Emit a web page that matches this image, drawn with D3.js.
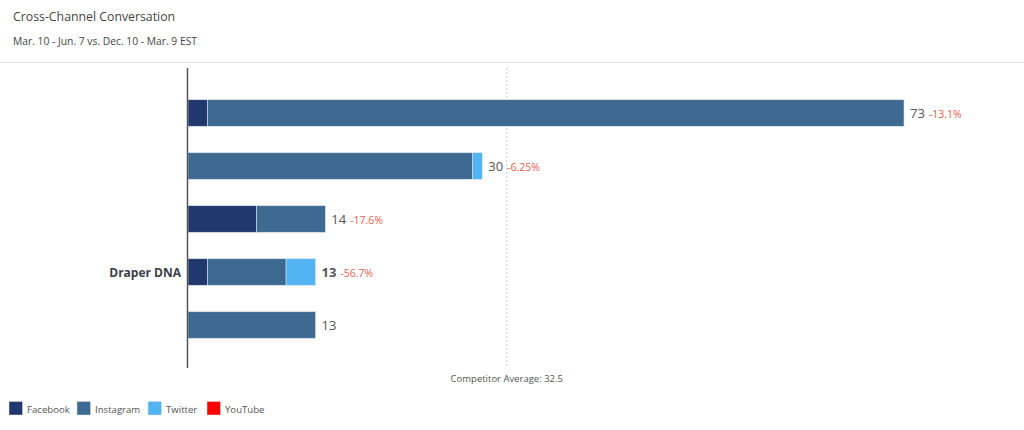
<!DOCTYPE html>
<html>
<head>
<meta charset="utf-8">
<script src="https://cdn.jsdelivr.net/npm/d3@7"></script>
<style>
  html, body { margin: 0; padding: 0; background: #fff; }
  body { width: 1024px; height: 430px; overflow: hidden; font-family: "Open Sans", sans-serif; }
</style>
</head>
<body>
<svg id="chart" width="1024" height="430"></svg>
<script>
// ---- data ----
const title = "Cross-Channel Conversation";
const subtitle = "Mar. 10 - Jun. 7 vs. Dec. 10 - Mar. 9 EST";
const categories = ["c1", "c2", "c3", "Draper DNA", "c5"];
const categoryLabels = ["", "", "", "Draper DNA", ""];
const highlighted = "Draper DNA";
const seriesNames = ["Facebook", "Instagram", "Twitter", "YouTube"];
const seriesColors = ["#20386d", "#3e6990", "#52b4f2", "#ff0000"];
const facebook  = [2, 0, 7, 2, 0];
const instagram = [71, 29, 7, 8, 13];
const twitter   = [0, 1, 0, 3, 0];
const youtube   = [0, 0, 0, 0, 0];
const totals    = [73, 30, 14, 13, 13];
const changes   = ["-13.1%", "-6.25%", "-17.6%", "-56.7%", ""];
const competitorAverage = 32.5;
const averageLabel = "Competitor Average: 32.5";

// ---- layout ----
const svg = d3.select("#chart");
const x = d3.scaleLinear().domain([0, 73]).range([188, 904]);
const y = d3.scaleBand().domain(categories).range([86.5, 351.5]).paddingInner(0.5).paddingOuter(0.25);

// header
svg.append("text").attr("x", 13).attr("y", 21).attr("font-size", 12.3).attr("fill", "#444").text(title);
svg.append("text").attr("x", 13).attr("y", 45).attr("font-size", 10.3).attr("fill", "#444").text(subtitle);
svg.append("line").attr("x1", 0).attr("x2", 1024).attr("y1", 62.5).attr("y2", 62.5).attr("stroke", "#e3e3e3").attr("stroke-width", 1);

// competitor average line
svg.append("line")
  .attr("x1", x(competitorAverage)).attr("x2", x(competitorAverage))
  .attr("y1", 68).attr("y2", 368)
  .attr("stroke", "#c8c8c8").attr("stroke-width", 1).attr("stroke-dasharray", "2,2");
svg.append("text").attr("x", x(competitorAverage)).attr("y", 382)
  .attr("text-anchor", "middle").attr("font-size", 9.5).attr("fill", "#555").text(averageLabel);

// stacked data
const rows = categories.map((c, i) => ({ cat: c, Facebook: facebook[i], Instagram: instagram[i], Twitter: twitter[i], YouTube: youtube[i] }));
const stack = d3.stack().keys(seriesNames)(rows);

svg.append("g").selectAll("g").data(stack).join("g")
  .attr("fill", (d, i) => seriesColors[i])
  .selectAll("rect").data(d => d.filter(p => p[1] > p[0])).join("rect")
  .attr("x", p => x(p[0]))
  .attr("width", p => x(p[1]) - x(p[0]))
  .attr("y", p => y(p.data.cat))
  .attr("height", y.bandwidth())
  .attr("stroke", "#d5e0ec").attr("stroke-width", 0.6);

// axis line
svg.append("line").attr("x1", 187.5).attr("x2", 187.5).attr("y1", 68).attr("y2", 368)
  .attr("stroke", "#555").attr("stroke-width", 1.5);

// category labels
svg.append("g").selectAll("text").data(categories).join("text")
  .attr("x", 181).attr("y", d => y(d) + y.bandwidth() / 2 + 4.5)
  .attr("text-anchor", "end").attr("font-size", 12).attr("font-weight", "bold").attr("fill", "#3a3f4a")
  .text((d, i) => categoryLabels[i]);

// value labels
const vl = svg.append("g").selectAll("text").data(categories).join("text")
  .attr("x", (d, i) => x(totals[i]) + 6)
  .attr("y", d => y(d) + y.bandwidth() / 2 + 5);
vl.append("tspan")
  .attr("font-size", 13).attr("fill", "#555")
  .attr("font-weight", d => d === highlighted ? "bold" : "normal")
  .text((d, i) => totals[i]);
vl.append("tspan").attr("dx", 4)
  .attr("font-size", 10.5).attr("fill", "#e8604c")
  .text((d, i) => changes[i]);

// legend
const legend = svg.append("g");
const legendX = [9, 77, 148, 207];
seriesNames.forEach((s, i) => {
  legend.append("rect").attr("x", legendX[i]).attr("y", 401.5).attr("width", 13.5).attr("height", 13.5)
    .attr("fill", seriesColors[i]).attr("stroke", "#ddd").attr("stroke-width", 0.5);
  legend.append("text").attr("x", legendX[i] + 18).attr("y", 412.5).attr("font-size", 9.6).attr("fill", "#555").text(s);
});
</script>
</body>
</html>
